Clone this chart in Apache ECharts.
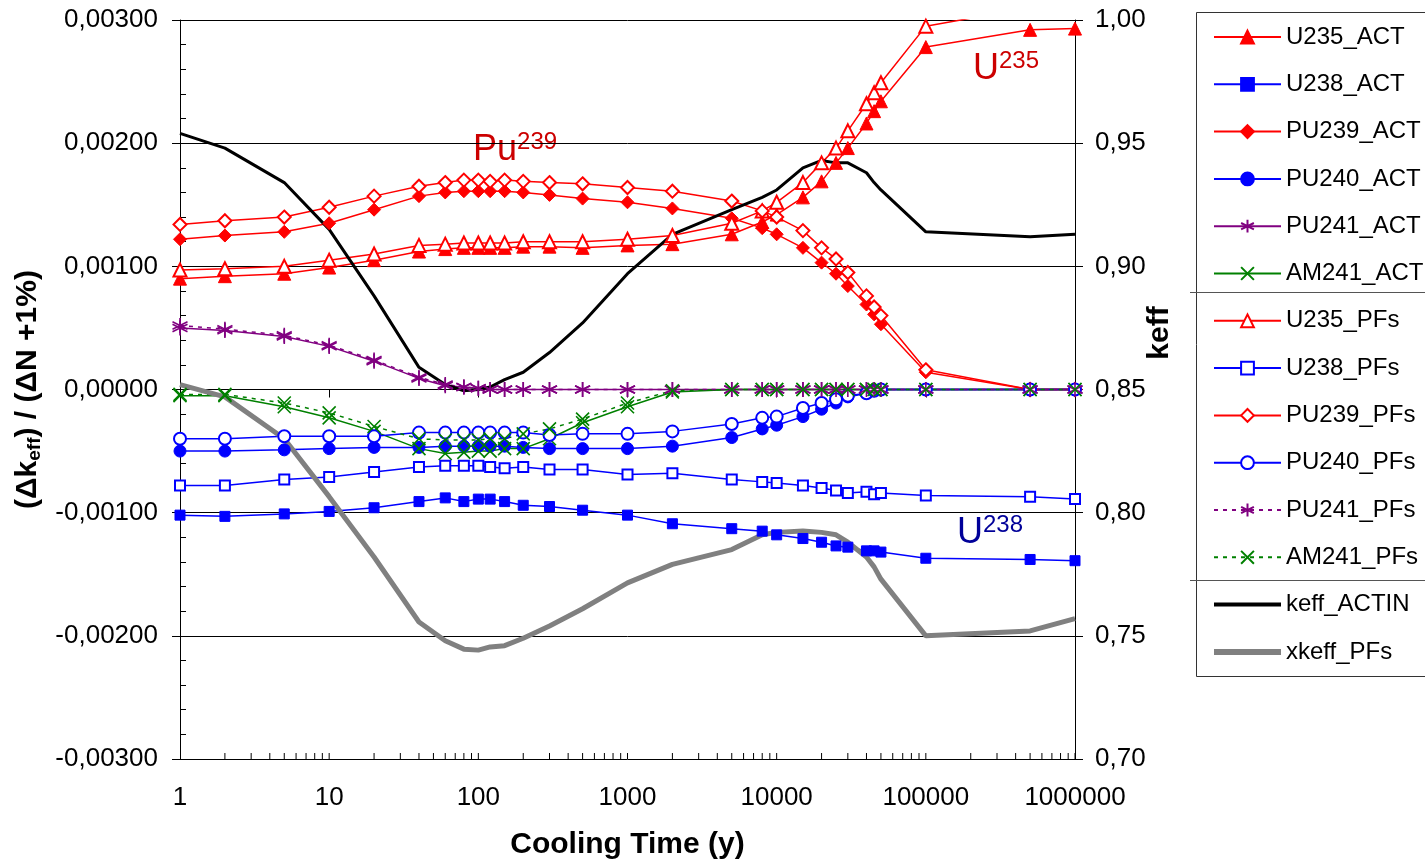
<!DOCTYPE html>
<html>
<head>
<meta charset="utf-8">
<title>Reactivity worth vs cooling time</title>
<script src="https://cdn.jsdelivr.net/npm/echarts@6/dist/echarts.min.js"></script>
<style>
  html, body { margin: 0; padding: 0; background: #fff; }
  #chart { width: 1425px; height: 862px; }
</style>
</head>
<body>
<div id="chart"></div>
<script>
// Cooling times (years) shared by every series
const coolingTime = [1, 2, 5, 10, 20, 40, 60, 80, 100, 120, 150, 200, 300, 500, 1000,
  2000, 5000, 8000, 10000, 15000, 20000, 25000, 30000, 40000, 45000, 50000,
  100000, 500000, 1000000];

// (Δk_eff)/(ΔN +1%) — actinide-only calculation
const u235Act  = [0.00090, 0.00092, 0.00094, 0.00099, 0.00105, 0.00112, 0.00114, 0.00115, 0.00115, 0.00115, 0.00115, 0.00116, 0.00116, 0.00115, 0.00117,
  0.00118, 0.00126, 0.00136, 0.00142, 0.00156, 0.00169, 0.00184, 0.00196, 0.00216, 0.00226, 0.00234, 0.00278, 0.00292, 0.00293];
const u238Act  = [-0.00102, -0.00103, -0.00101, -0.00099, -0.00096, -0.00091, -0.00088, -0.00091, -0.00089, -0.00089, -0.00091, -0.00094, -0.00095, -0.00098, -0.00102,
  -0.00109, -0.00113, -0.00115, -0.00118, -0.00121, -0.00124, -0.00127, -0.00128, -0.00131, -0.00131, -0.00132, -0.00137, -0.00138, -0.00139];
const pu239Act = [0.00122, 0.00125, 0.00128, 0.00135, 0.00146, 0.00157, 0.00160, 0.00161, 0.00161, 0.00161, 0.00161, 0.00160, 0.00158, 0.00155, 0.00152,
  0.00147, 0.00139, 0.00131, 0.00126, 0.00115, 0.00103, 0.00094, 0.00084, 0.00069, 0.00061, 0.00053, 0.00014, 0, 0];
const pu240Act = [-0.00050, -0.00050, -0.00049, -0.00048, -0.00047, -0.00047, -0.00046, -0.00046, -0.00046, -0.00046, -0.00046, -0.00047, -0.00048, -0.00048, -0.00048,
  -0.00046, -0.00039, -0.00032, -0.00029, -0.00022, -0.00016, -0.00011, -0.00006, -0.00003, -0.00001, 0, 0, 0, 0];
const pu241Act = [0.00050, 0.00048, 0.00043, 0.00035, 0.00023, 0.00009, 0.00003, 0.00002, 0.00001, 0, 0, 0, 0, 0, 0,
  0, 0, 0, 0, 0, 0, 0, 0, 0, 0, 0, 0, 0, 0];
const am241Act = [-0.00005, -0.00005, -0.00014, -0.00023, -0.00034, -0.00048, -0.00052, -0.00051, -0.00050, -0.00050, -0.00048, -0.00048, -0.00040, -0.00027, -0.00014,
  -0.00002, 0, 0, 0, 0, 0, 0, 0, 0, 0, 0, 0, 0, 0];

// (Δk_eff)/(ΔN +1%) — actinides plus fission products
const u235Pfs  = [0.00097, 0.00098, 0.00100, 0.00105, 0.00110, 0.00117, 0.00118, 0.00119, 0.00119, 0.00119, 0.00119, 0.00120, 0.00120, 0.00120, 0.00122,
  0.00125, 0.00135, 0.00145, 0.00152, 0.00168, 0.00184, 0.00196, 0.00210, 0.00232, 0.00241, 0.00249, 0.00295, 0.00310, 0.00312];
const u238Pfs  = [-0.00078, -0.00078, -0.00073, -0.00071, -0.00067, -0.00063, -0.00062, -0.00062, -0.00062, -0.00063, -0.00064, -0.00063, -0.00065, -0.00065, -0.00069,
  -0.00068, -0.00073, -0.00075, -0.00076, -0.00078, -0.00080, -0.00082, -0.00084, -0.00083, -0.00085, -0.00084, -0.00086, -0.00087, -0.00089];
const pu239Pfs = [0.00134, 0.00137, 0.00140, 0.00148, 0.00157, 0.00165, 0.00168, 0.00170, 0.00170, 0.00169, 0.00170, 0.00169, 0.00168, 0.00167, 0.00164,
  0.00161, 0.00153, 0.00145, 0.00140, 0.00129, 0.00115, 0.00106, 0.00095, 0.00076, 0.00067, 0.00060, 0.00016, 0, 0];
const pu240Pfs = [-0.00040, -0.00040, -0.00038, -0.00038, -0.00038, -0.00035, -0.00035, -0.00035, -0.00035, -0.00035, -0.00035, -0.00035, -0.00037, -0.00036, -0.00036,
  -0.00034, -0.00028, -0.00023, -0.00022, -0.00015, -0.00011, -0.00008, -0.00005, -0.00003, -0.00001, 0, 0, 0, 0];
const pu241Pfs = [0.00052, 0.00049, 0.00044, 0.00036, 0.00024, 0.00010, 0.00004, 0.00002, 0.00001, 0, 0, 0, 0, 0, 0,
  0, 0, 0, 0, 0, 0, 0, 0, 0, 0, 0, 0, 0, 0];
const am241Pfs = [-0.00004, -0.00004, -0.00011, -0.00019, -0.00030, -0.00040, -0.00041, -0.00041, -0.00041, -0.00040, -0.00040, -0.00036, -0.00032, -0.00024, -0.00011,
  -0.00001, 0, 0, 0, 0, 0, 0, 0, 0, 0, 0, 0, 0, 0];

// keff on the right-hand axis
const keffActin = [0.954, 0.948, 0.934, 0.915, 0.888, 0.859, 0.852, 0.8495, 0.850, 0.851, 0.854, 0.857, 0.865, 0.877, 0.897,
  0.913, 0.923, 0.928, 0.931, 0.940, 0.943, 0.942, 0.942, 0.938, 0.934, 0.931, 0.914, 0.912, 0.913];
const xkeffPfs  = [0.852, 0.847, 0.830, 0.8065, 0.782, 0.7556, 0.748, 0.7446, 0.7442, 0.7455, 0.746, 0.749, 0.754, 0.761, 0.7715,
  0.779, 0.785, 0.791, 0.792, 0.7926, 0.792, 0.791, 0.788, 0.782, 0.778, 0.773, 0.750, 0.752, 0.757];

// Axis ranges and tick steps
const leftAxisRange = [-0.003, 0.003];
const leftAxisStep = 0.001;
const rightAxisRange = [0.70, 1.00];
const rightAxisStep = 0.05;
const timeRange = [1, 1000000];

const FONT = '"Liberation Sans", Arial, sans-serif';
const RED = '#ff0000', BLUE = '#0000ff', PURPLE = '#800080', GREEN = '#008000';
const STAR = 'path://M5 0 L5 10 M0.7 2.5 L9.3 7.5 M0.7 7.5 L9.3 2.5';
const CROSS = 'path://M0 0 L10 10 M0 10 L10 0';

// Intermediate decade positions (2..10 per decade) for the small inward ticks on the time axis
const logTickPositions = [];
for (let p = 1; p < timeRange[1]; p *= 10) {
  for (let m = 2; m <= 10; m++) logTickPositions.push(m * p);
}

const pairs = (ys) => coolingTime.map((t, i) => [t, ys[i]]);

function marked(name, ys, color, symbol, size, dashed) {
  const empty = symbol.indexOf('empty') === 0;
  const path = symbol.indexOf('path://') === 0;
  return {
    name, type: 'line', data: pairs(ys), yAxisIndex: 0,
    symbol, symbolSize: size, showAllSymbol: true,
    lineStyle: { color, width: 1.5, type: dashed ? [4, 5] : 'solid' },
    itemStyle: { color, borderColor: color, borderWidth: empty || path ? 1.6 : 1 },
    emphasis: { disabled: true }
  };
}

function keffLine(name, ys, color, width) {
  return {
    name, type: 'line', data: pairs(ys), yAxisIndex: 1,
    symbol: 'none', lineStyle: { color, width },
    itemStyle: { color },
    emphasis: { disabled: true }
  };
}

const series = [
  marked('U235_ACT', u235Act, RED, 'triangle', 13),
  marked('U238_ACT', u238Act, BLUE, 'rect', 10),
  marked('PU239_ACT', pu239Act, RED, 'diamond', 13),
  marked('PU240_ACT', pu240Act, BLUE, 'circle', 12),
  marked('PU241_ACT', pu241Act, PURPLE, STAR, 15),
  marked('AM241_ACT', am241Act, GREEN, CROSS, 13),
  marked('U235_PFs', u235Pfs, RED, 'emptyTriangle', 13),
  marked('U238_PFs', u238Pfs, BLUE, 'emptyRect', 10),
  marked('PU239_PFs', pu239Pfs, RED, 'emptyDiamond', 13),
  marked('PU240_PFs', pu240Pfs, BLUE, 'emptyCircle', 12),
  marked('PU241_PFs', pu241Pfs, PURPLE, STAR, 15, true),
  marked('AM241_PFs', am241Pfs, GREEN, CROSS, 13, true),
  keffLine('keff_ACTIN', keffActin, '#000000', 3),
  keffLine('xkeff_PFs', xkeffPfs, '#808080', 5),
  {
    name: 'timeTicks', type: 'custom', silent: true, clip: false, z: 1,
    xAxisIndex: 0, yAxisIndex: 0,
    data: logTickPositions.map(v => [v, leftAxisRange[0]]),
    renderItem: (params, api) => {
      const p = api.coord([api.value(0), api.value(1)]);
      return {
        type: 'line',
        shape: { x1: p[0], y1: p[1], x2: p[0], y2: p[1] - 6 },
        style: { stroke: '#000', lineWidth: 1 }
      };
    }
  }
];

const legendNames = ['U235_ACT', 'U238_ACT', 'PU239_ACT', 'PU240_ACT', 'PU241_ACT', 'AM241_ACT',
  'U235_PFs', 'U238_PFs', 'PU239_PFs', 'PU240_PFs', 'PU241_PFs', 'AM241_PFs',
  'keff_ACTIN', 'xkeff_PFs'];

// keff entries show a plain thick line, no marker
const legendData = legendNames.map(n => {
  if (n === 'keff_ACTIN') return { name: n, itemStyle: { opacity: 0 }, lineStyle: { width: 4, color: '#000000' } };
  if (n === 'xkeff_PFs') return { name: n, itemStyle: { opacity: 0 }, lineStyle: { width: 6, color: '#808080' } };
  return { name: n };
});

const commaFixed = (v, d) => v.toFixed(d).replace('.', ',').replace(/^-(0,0+)$/, '$1');

const chart = echarts.init(document.getElementById('chart'), null, { renderer: 'canvas' });
chart.setOption({
  animation: false,
  backgroundColor: '#ffffff',
  textStyle: { fontFamily: FONT, color: '#000' },
  grid: { left: 180, right: 350, top: 20, bottom: 103, containLabel: false, outerBoundsMode: 'none' },
  xAxis: {
    type: 'log', logBase: 10, min: timeRange[0], max: timeRange[1],
    name: 'Cooling Time (y)', nameLocation: 'middle', nameGap: 71,
    nameTextStyle: { fontSize: 30, fontWeight: 'bold', color: '#000', fontFamily: FONT },
    axisLine: { show: true, lineStyle: { color: '#000', width: 1 } },
    axisTick: { show: true, length: 8, inside: false, lineStyle: { color: '#000' } },
    minorTick: { show: false },
    axisLabel: { fontSize: 26, color: '#000', margin: 26, fontFamily: FONT,
      formatter: v => String(Math.round(v)) },
    splitLine: { show: false }
  },
  yAxis: [
    {
      type: 'value', position: 'left',
      min: leftAxisRange[0], max: leftAxisRange[1], interval: leftAxisStep,
      name: '{b|(\u0394k}{s|eff}{b|) / (\u0394N +1%)}',
      nameLocation: 'middle', nameGap: 136,
      nameTextStyle: {
        fontFamily: FONT, color: '#000',
        rich: {
          b: { fontSize: 30, fontWeight: 'bold', lineHeight: 32, fontFamily: FONT, color: '#000' },
          s: { fontSize: 19, fontWeight: 'bold', lineHeight: 19, verticalAlign: 'bottom', fontFamily: FONT, color: '#000' }
        }
      },
      axisLine: { show: true, lineStyle: { color: '#000', width: 1 } },
      axisTick: { show: true, length: 8, inside: false, lineStyle: { color: '#000' } },
      axisLabel: { fontSize: 26, color: '#000', margin: 22, fontFamily: FONT,
        formatter: v => commaFixed(v, 5) },
      splitLine: { show: true, lineStyle: { color: '#000', width: 1 } }
    },
    {
      type: 'value', position: 'right',
      min: rightAxisRange[0], max: rightAxisRange[1], interval: rightAxisStep,
      axisLine: { show: true, lineStyle: { color: '#000', width: 1 } },
      axisTick: { show: true, length: 8, inside: false, lineStyle: { color: '#000' } },
      axisLabel: { fontSize: 26, color: '#000', margin: 20, fontFamily: FONT,
        formatter: v => commaFixed(v, 2) },
      splitLine: { show: false }
    },
    {
      // inward minor ticks along the left axis
      type: 'value', position: 'left',
      min: leftAxisRange[0], max: leftAxisRange[1], interval: leftAxisStep,
      axisLine: { show: false },
      axisTick: { show: false, inside: true },
      minorTick: { show: true, splitNumber: 5, length: 6, lineStyle: { color: '#000', width: 1 } },
      axisLabel: { show: false },
      splitLine: { show: false }
    }
  ],
  legend: {
    orient: 'vertical', left: 1211, top: 25, padding: 0,
    itemWidth: 67, itemHeight: 16, itemGap: 23.3,
    selectedMode: false,
    textStyle: { fontSize: 24, lineHeight: 24, color: '#000', fontFamily: FONT },
    data: legendData
  },
  graphic: [
    { type: 'rect', silent: true, z: 0,
      shape: { x: 1196.5, y: 12.5, width: 260, height: 664 },
      style: { fill: 'none', stroke: '#333', lineWidth: 1 } },
    { type: 'line', silent: true,
      shape: { x1: 1190, y1: 292.5, x2: 1425, y2: 292.5 },
      style: { stroke: '#555', lineWidth: 1 } },
    { type: 'line', silent: true,
      shape: { x1: 1190, y1: 580.5, x2: 1425, y2: 580.5 },
      style: { stroke: '#555', lineWidth: 1 } },
    // right-hand axis title
    { type: 'text', silent: true, x: 1160, y: 333, rotation: Math.PI / 2,
      style: { text: 'keff', fontSize: 30, fontWeight: 'bold', fill: '#000', fontFamily: FONT,
        align: 'center', verticalAlign: 'middle' } },
    { type: 'text', silent: true, left: 473, top: 130,
      style: { text: '{m|Pu}{s|239}', rich: {
        m: { fontSize: 36, lineHeight: 40, fill: '#cc0000', fontFamily: FONT },
        s: { fontSize: 24, lineHeight: 26, verticalAlign: 'top', fill: '#cc0000', fontFamily: FONT } } } },
    { type: 'text', silent: true, left: 973, top: 49,
      style: { text: '{m|U}{s|235}', rich: {
        m: { fontSize: 36, lineHeight: 40, fill: '#cc0000', fontFamily: FONT },
        s: { fontSize: 24, lineHeight: 26, verticalAlign: 'top', fill: '#cc0000', fontFamily: FONT } } } },
    { type: 'text', silent: true, left: 957, top: 513,
      style: { text: '{m|U}{s|238}', rich: {
        m: { fontSize: 36, lineHeight: 40, fill: '#000099', fontFamily: FONT },
        s: { fontSize: 24, lineHeight: 26, verticalAlign: 'top', fill: '#000099', fontFamily: FONT } } } }
  ],
  series
});
</script>
</body>
</html>
